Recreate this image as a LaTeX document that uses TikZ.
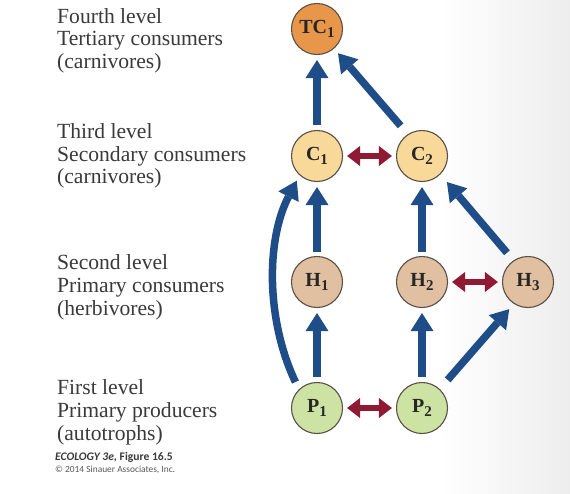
\documentclass[tikz,border=0pt]{standalone}
\usepackage{fontspec}
\setmainfont{Liberation Serif}
\newfontfamily\footfont{Carlito}
\usetikzlibrary{arrows.meta}
\definecolor{txt}{HTML}{3A3A3A}
\definecolor{flowblue}{HTML}{1E4D87}
\definecolor{compred}{HTML}{8E1B33}
\definecolor{tcfill}{HTML}{E8974A}
\definecolor{cfill}{HTML}{F8D99A}
\definecolor{hfill}{HTML}{E0C0A0}
\definecolor{pfill}{HTML}{CDE3A3}
\definecolor{ring}{HTML}{5A5048}
\newcommand\spsub[1]{\raisebox{-3.5pt}{\fontsize{15}{15}\selectfont #1}}
\tikzset{
  sp/.style={circle, minimum size=51pt, inner sep=0pt, draw=ring, line width=1.1pt,
    font=\fontsize{20}{22}\selectfont\bfseries, text=black!85},
  lvl/.style={anchor=base west, inner sep=0pt, text=txt, font=\fontsize{21.6}{23}\selectfont},
  flow/.style={draw=flowblue, line width=7.5pt,
    -{Triangle[width=23pt,length=18pt,line width=0pt]}},
  comp/.style={draw=compred, line width=5.5pt,
    {Triangle[width=20pt,length=13pt,line width=0pt]}-{Triangle[width=20pt,length=13pt,line width=0pt]},
    shorten <=4pt, shorten >=4pt}
}
\begin{document}
\begin{tikzpicture}[x=1pt,y=-1pt]
\useasboundingbox (0,0) rectangle (570,493);
\fill[white] (0,0) rectangle (570,493);
\shade[left color=white, right color=black!7] (440,0) rectangle (570,493);

% level labels
\node[lvl] (l41) at (57,23) {Fourth level};
\node[lvl] (l42) at (57,45.5) {Tertiary consumers};
\node[lvl] (l43) at (57,68) {(carnivores)};
\node[lvl] (l31) at (57,138.5) {Third level};
\node[lvl] (l32) at (57,161.5) {Secondary consumers};
\node[lvl] (l33) at (57,183.5) {(carnivores)};
\node[lvl] (l21) at (57,269) {Second level};
\node[lvl] (l22) at (57,292.5) {Primary consumers};
\node[lvl] (l23) at (57,315) {(herbivores)};
\node[lvl] (l11) at (57,394) {First level};
\node[lvl] (l12) at (57,417) {Primary producers};
\node[lvl] (l13) at (57,440) {(autotrophs)};

\node[anchor=base west, inner sep=0pt, text=txt, font=\footfont\fontsize{11.6}{13}\selectfont\bfseries] (f1) at (55,460) {\textit{ECOLOGY 3e,} Figure 16.5};
\node[anchor=base west, inner sep=0pt, text=txt!85, font=\footfont\fontsize{9.4}{11}\selectfont] (f2) at (55,472) {\textcopyright\ 2014 Sinauer Associates, Inc.};

% species nodes
\node[sp, fill=tcfill] (TC1) at (317,29) {TC\spsub{1}};
\node[sp, fill=cfill] (C1) at (317,156) {C\spsub{1}};
\node[sp, fill=cfill] (C2) at (422,156) {C\spsub{2}};
\node[sp, fill=hfill] (H1) at (317,282) {H\spsub{1}};
\node[sp, fill=hfill] (H2) at (422,282) {H\spsub{2}};
\node[sp, fill=hfill] (H3) at (528,282) {H\spsub{3}};
\node[sp, fill=pfill] (P1) at (317,408) {P\spsub{1}};
\node[sp, fill=pfill] (P2) at (422,408) {P\spsub{2}};

% feeding arrows
\draw[flow, shorten <=5pt, shorten >=5pt] (C1) -- (TC1);
\draw[flow, shorten <=11pt, shorten >=6pt] (C2.123) -- (TC1.-49);
\draw[flow, shorten <=4pt, shorten >=5pt] (H1) -- (C1);
\draw[flow, shorten <=4pt, shorten >=5pt] (H2) -- (C2);
\draw[flow, shorten <=10pt, shorten >=10pt] (H3.124) -- (C2.-45);
\draw[flow, shorten <=5pt, shorten >=5pt] (P1) -- (H1);
\draw[flow, shorten <=5pt, shorten >=5pt] (P2) -- (H2);
\draw[flow, shorten <=12pt, shorten >=7pt] (P2.47) -- (H3.-123);
\draw[flow, shorten <=8pt, shorten >=6pt] (P1.134) .. controls (266,320) and (266,240) .. (C1.-132);

% competition arrows
\draw[comp] (C1) -- (C2);
\draw[comp] (H2) -- (H3);
\draw[comp] (P1) -- (P2);
\end{tikzpicture}
\end{document}
